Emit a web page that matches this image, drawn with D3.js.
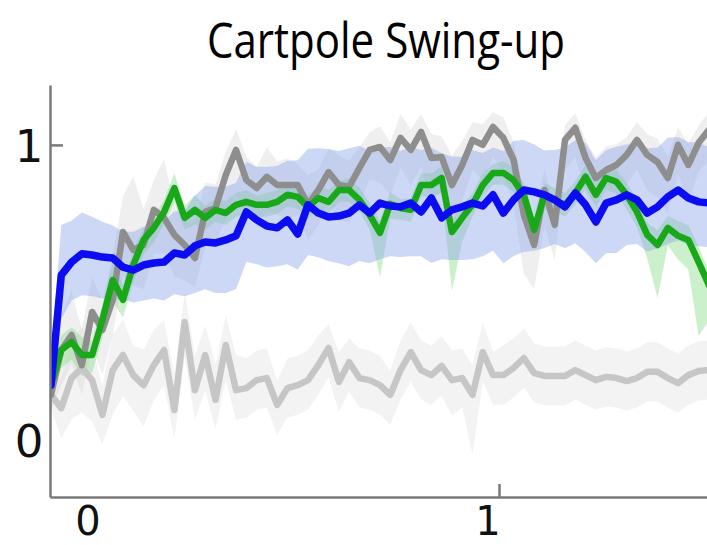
<!DOCTYPE html>
<html>
<head>
<meta charset="utf-8">
<script src="https://cdn.jsdelivr.net/npm/d3@7"></script>
<style>
  body { margin: 0; background: #fff; }
  svg { display: block; }
</style>
</head>
<body>
<script>
// evaluation points, in units of the x axis (first point sits at the y axis)
var X0 = -0.12, STEP = 0.0257;
var xTicks = [0, 1];
var yTicks = [0, 1];
var title = "Cartpole Swing-up";

var blueMean = [0.186,0.559,0.603,0.631,0.627,0.620,0.617,0.586,0.576,0.593,
  0.600,0.603,0.634,0.627,0.658,0.671,0.668,0.678,0.692,0.773,
  0.746,0.725,0.719,0.746,0.698,0.797,0.769,0.756,0.759,0.769,
  0.797,0.769,0.803,0.793,0.790,0.803,0.773,0.820,0.753,0.780,
  0.790,0.803,0.793,0.831,0.769,0.814,0.847,0.841,0.831,0.814,
  0.790,0.837,0.797,0.739,0.803,0.814,0.831,0.814,0.769,0.790,
  0.824,0.847,0.820,0.807,0.803];
var blueUp = [0.08,0.17,0.14,0.14,0.13,0.12,0.11,0.12,0.13,0.13,
  0.13,0.14,0.14,0.15,0.17,0.19,0.19,0.18,0.18,0.17,
  0.18,0.20,0.21,0.20,0.25,0.19,0.22,0.23,0.22,0.22,
  0.20,0.21,0.19,0.20,0.19,0.19,0.21,0.17,0.22,0.18,
  0.17,0.18,0.18,0.16,0.21,0.20,0.17,0.16,0.15,0.17,
  0.20,0.18,0.21,0.21,0.18,0.18,0.17,0.19,0.22,0.20,
  0.20,0.18,0.19,0.20,0.19];
var blueDown = [0.05,0.15,0.13,0.14,0.14,0.14,0.14,0.11,0.11,0.12,
  0.12,0.13,0.14,0.14,0.16,0.16,0.17,0.18,0.18,0.17,
  0.15,0.14,0.13,0.15,0.12,0.17,0.15,0.15,0.16,0.18,
  0.19,0.17,0.19,0.17,0.17,0.18,0.15,0.22,0.14,0.17,
  0.18,0.19,0.17,0.19,0.17,0.19,0.21,0.20,0.18,0.15,
  0.14,0.17,0.16,0.14,0.17,0.18,0.17,0.15,0.13,0.14,
  0.16,0.17,0.16,0.15,0.15];

var greenMean = [0.186,0.305,0.332,0.288,0.288,0.407,0.542,0.475,0.593,0.678,
  0.719,0.773,0.854,0.753,0.780,0.753,0.780,0.769,0.797,0.807,
  0.797,0.797,0.807,0.831,0.824,0.790,0.820,0.807,0.847,0.847,
  0.814,0.763,0.702,0.800,0.786,0.780,0.864,0.864,0.888,0.705,
  0.753,0.797,0.864,0.905,0.905,0.881,0.831,0.712,0.831,0.814,
  0.797,0.837,0.892,0.831,0.888,0.875,0.831,0.773,0.695,0.661,
  0.719,0.692,0.678,0.603,0.525];
var greenUp = [0.02,0.05,0.05,0.06,0.05,0.05,0.06,0.05,0.05,0.04,
  0.04,0.04,0.05,0.04,0.05,0.04,0.04,0.04,0.04,0.04,
  0.03,0.04,0.04,0.04,0.03,0.04,0.04,0.04,0.03,0.04,
  0.04,0.04,0.04,0.04,0.03,0.04,0.04,0.04,0.04,0.04,
  0.04,0.04,0.04,0.03,0.04,0.04,0.04,0.04,0.04,0.04,
  0.04,0.04,0.04,0.04,0.04,0.04,0.04,0.04,0.04,0.05,
  0.04,0.05,0.05,0.05,0.05];
var greenDown = [0.02,0.06,0.06,0.07,0.06,0.06,0.07,0.06,0.06,0.05,
  0.05,0.04,0.05,0.04,0.05,0.04,0.04,0.04,0.04,0.04,
  0.04,0.04,0.04,0.04,0.04,0.04,0.04,0.04,0.04,0.04,
  0.04,0.05,0.15,0.05,0.04,0.04,0.04,0.04,0.05,0.20,
  0.08,0.04,0.04,0.04,0.04,0.04,0.05,0.06,0.05,0.04,
  0.04,0.04,0.04,0.04,0.04,0.04,0.05,0.05,0.08,0.18,
  0.06,0.08,0.10,0.25,0.12];

var darkMean = [0.153,0.305,0.356,0.254,0.434,0.373,0.475,0.705,0.644,0.661,
  0.780,0.753,0.695,0.661,0.617,0.773,0.786,0.898,0.983,0.881,
  0.854,0.892,0.864,0.864,0.864,0.797,0.847,0.908,0.864,0.858,
  0.922,0.983,0.993,0.949,1.024,0.983,1.044,0.956,0.959,0.864,
  0.932,1.017,1.000,1.061,1.024,0.949,0.763,0.661,0.847,0.729,
  1.017,1.058,0.956,0.888,0.915,0.932,0.966,1.017,0.966,0.942,
  0.888,1.000,0.932,1.007,1.051];
var darkUp = [0.05,0.12,0.15,0.12,0.12,0.10,0.15,0.12,0.25,0.12,
  0.10,0.20,0.10,0.08,0.12,0.10,0.08,0.08,0.07,0.08,
  0.07,0.10,0.08,0.09,0.07,0.10,0.07,0.08,0.10,0.09,
  0.07,0.06,0.07,0.06,0.08,0.07,0.06,0.08,0.07,0.10,
  0.08,0.06,0.07,0.05,0.07,0.06,0.08,0.10,0.07,0.06,
  0.05,0.05,0.06,0.07,0.08,0.07,0.06,0.06,0.07,0.08,
  0.07,0.06,0.07,0.06,0.06];
var darkDown = [0.05,0.12,0.10,0.10,0.12,0.15,0.12,0.15,0.12,0.15,
  0.15,0.12,0.14,0.12,0.10,0.12,0.12,0.15,0.15,0.12,
  0.12,0.12,0.10,0.12,0.10,0.12,0.12,0.10,0.12,0.12,
  0.12,0.10,0.12,0.12,0.10,0.12,0.12,0.14,0.12,0.15,
  0.12,0.10,0.12,0.10,0.12,0.15,0.20,0.15,0.12,0.12,
  0.10,0.10,0.12,0.12,0.12,0.12,0.10,0.10,0.12,0.12,
  0.12,0.10,0.12,0.10,0.10];

var lightMean = [0.153,0.108,0.210,0.244,0.203,0.085,0.237,0.288,0.220,0.186,
  0.254,0.305,0.102,0.400,0.169,0.288,0.136,0.322,0.169,0.176,
  0.203,0.210,0.119,0.176,0.186,0.203,0.254,0.312,0.197,0.264,
  0.210,0.203,0.186,0.153,0.237,0.298,0.237,0.220,0.251,0.203,
  0.210,0.153,0.298,0.220,0.220,0.244,0.278,0.227,0.217,0.217,
  0.217,0.237,0.220,0.203,0.214,0.210,0.200,0.210,0.231,0.231,
  0.210,0.193,0.220,0.234,0.237];
var lightUp = [0.05,0.10,0.12,0.14,0.12,0.10,0.12,0.12,0.10,0.12,
  0.12,0.10,0.12,0.10,0.12,0.10,0.12,0.10,0.12,0.10,
  0.10,0.10,0.08,0.10,0.10,0.10,0.10,0.08,0.10,0.08,
  0.10,0.10,0.10,0.08,0.10,0.10,0.10,0.10,0.10,0.10,
  0.10,0.10,0.10,0.08,0.10,0.10,0.10,0.10,0.10,0.10,
  0.10,0.10,0.10,0.10,0.10,0.10,0.10,0.10,0.10,0.10,
  0.10,0.10,0.10,0.10,0.10];
var lightDown = [0.05,0.10,0.14,0.15,0.14,0.10,0.15,0.14,0.12,0.14,
  0.12,0.12,0.10,0.12,0.10,0.12,0.10,0.12,0.10,0.10,
  0.10,0.10,0.10,0.10,0.10,0.10,0.10,0.10,0.10,0.10,
  0.10,0.10,0.10,0.10,0.10,0.10,0.10,0.10,0.10,0.12,
  0.10,0.20,0.10,0.10,0.10,0.10,0.10,0.10,0.10,0.10,
  0.10,0.10,0.10,0.10,0.10,0.10,0.10,0.10,0.10,0.10,
  0.10,0.10,0.10,0.10,0.10];

// drawn bottom to top
var series = [
  { mean: lightMean, up: lightUp, down: lightDown, line: "#c6c6c6", band: "#eeeeee", bandOpacity: 0.7, w: 6.5 },
  { mean: darkMean, up: darkUp, down: darkDown, line: "#8e8e8e", band: "#d6d6d6", bandOpacity: 0.4, w: 6.5 },
  { mean: greenMean, up: greenUp, down: greenDown, line: "#18a818", band: "#8fdc8f", bandOpacity: 0.45, w: 6.5 },
  { mean: blueMean, up: blueUp, down: blueDown, line: "#0c0cf2", band: "#8fa8e8", bandOpacity: 0.45, w: 7.5 }
];

var width = 707, height = 545;
var svg = d3.select("body").append("svg")
  .attr("width", width)
  .attr("height", height);

var x = d3.scaleLinear().domain([-0.1225, 1.52]).range([50, 707]);
var y = d3.scaleLinear().domain([-0.193, 1.203]).range([497, 85]);

svg.append("defs").append("clipPath").attr("id", "plot")
  .append("rect").attr("x", 50).attr("y", 0).attr("width", 657).attr("height", 497);

var plot = svg.append("g").attr("clip-path", "url(#plot)");

function xAt(i) { return x(X0 + i * STEP); }

series.forEach(function(s) {
  var area = d3.area()
    .x(function(d, i) { return xAt(i); })
    .y0(function(d, i) { return y(d - s.down[i]); })
    .y1(function(d, i) { return y(d + s.up[i]); });
  plot.append("path")
    .datum(s.mean)
    .attr("d", area)
    .attr("fill", s.band)
    .attr("fill-opacity", s.bandOpacity);
});

series.forEach(function(s) {
  var line = d3.line()
    .x(function(d, i) { return xAt(i); })
    .y(function(d) { return y(d); });
  plot.append("path")
    .datum(s.mean)
    .attr("d", line)
    .attr("fill", "none")
    .attr("stroke", s.line)
    .attr("stroke-width", s.w)
    .attr("stroke-linejoin", "round")
    .attr("stroke-linecap", "round");
});

// axes: only the "1" ticks carry a mark, pointing into the plot
var xAxis = svg.append("g")
  .attr("transform", "translate(0,497)")
  .call(d3.axisBottom(x).tickValues([1]).tickSizeInner(-13).tickSizeOuter(0).tickFormat(""));
var yAxis = svg.append("g")
  .attr("transform", "translate(50,0)")
  .call(d3.axisLeft(y).tickValues([1]).tickSizeInner(-13).tickSizeOuter(0).tickFormat(""));
svg.selectAll(".domain, .tick line")
  .attr("stroke", "#7a7a7a")
  .attr("stroke-width", 2.5);

svg.append("g").selectAll("text")
  .data(xTicks)
  .enter().append("text")
  .attr("x", function(d) { return x(d) - 11; })
  .attr("y", 535)
  .attr("text-anchor", "middle")
  .style("font-family", "DejaVu Sans")
  .style("font-size", "40px")
  .attr("fill", "#111")
  .text(function(d) { return d; });

svg.append("g").selectAll("text")
  .data(yTicks)
  .enter().append("text")
  .attr("x", 29)
  .attr("y", function(d) { return y(d) + 17; })
  .attr("text-anchor", "middle")
  .style("font-family", "DejaVu Sans")
  .style("font-size", "45px")
  .attr("fill", "#111")
  .text(function(d) { return d; });

svg.append("text")
  .attr("x", 207)
  .attr("y", 58)
  .attr("textLength", 358)
  .attr("lengthAdjust", "spacingAndGlyphs")
  .style("font-family", "Open Sans")
  .style("font-size", "50px")
  .attr("fill", "#000")
  .text(title);
</script>
</body>
</html>
